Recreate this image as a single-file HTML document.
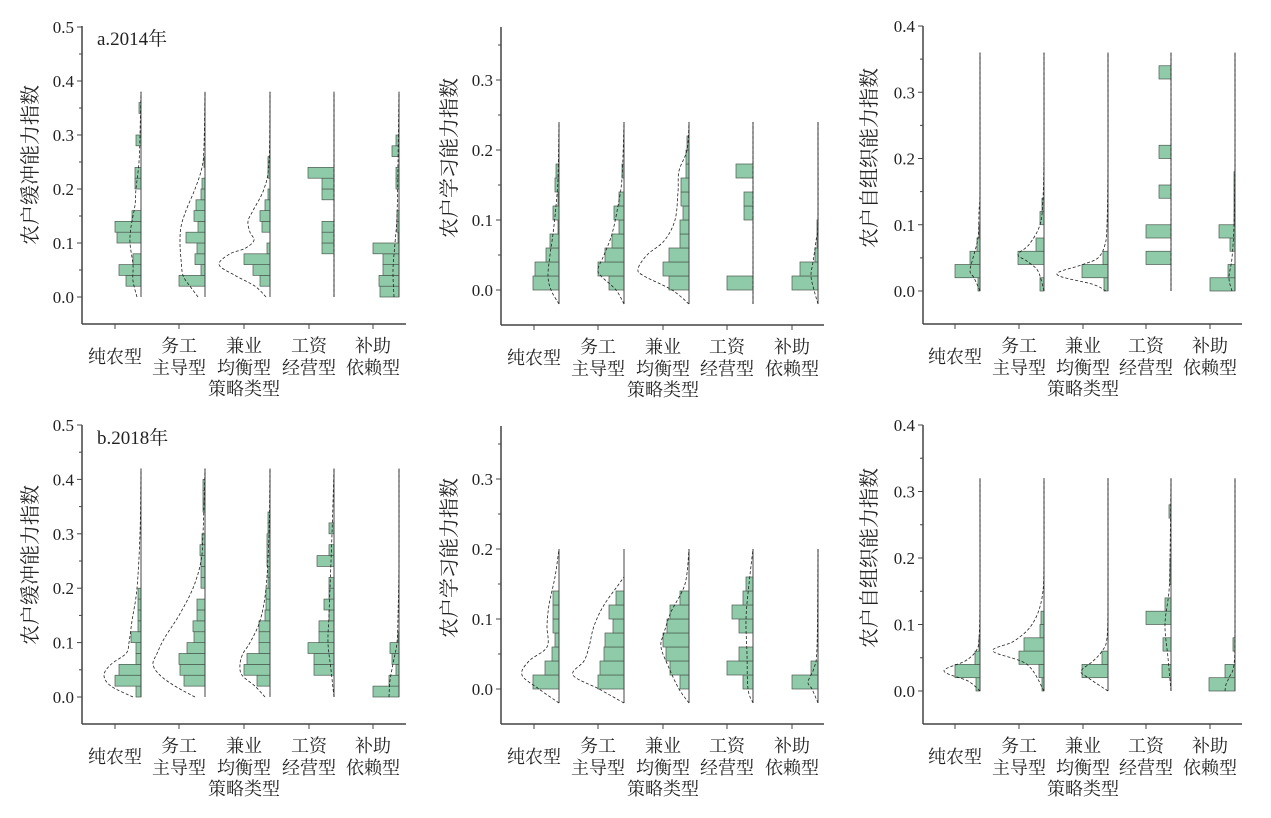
<!DOCTYPE html>
<html><head><meta charset="utf-8">
<style>
html,body{margin:0;padding:0;background:#fff;}
svg{display:block;}
text{font-family:"Liberation Serif","Noto Serif CJK SC",serif;fill:#222;}
</style></head>
<body>
<svg id="s" width="1271" height="818" xmlns="http://www.w3.org/2000/svg"></svg>
<script>
const S=document.getElementById('s');let out='';
const cats=[['纯农型'],['务工','主导型'],['兼业','均衡型'],['工资','经营型'],['补助','依赖型']];
function smooth(p){if(p.length<2)return '';let d='M'+p[0][0]+','+p[0][1];
for(let i=0;i<p.length-1;i++){const p0=p[i-1]||p[i],p1=p[i],p2=p[i+1],p3=p[i+2]||p2;
const c1=[p1[0]+(p2[0]-p0[0])/6,p1[1]+(p2[1]-p0[1])/6],c2=[p2[0]-(p3[0]-p1[0])/6,p2[1]-(p3[1]-p1[1])/6];
d+=' C'+c1[0].toFixed(1)+','+c1[1].toFixed(1)+' '+c2[0].toFixed(1)+','+c2[1].toFixed(1)+' '+p2[0].toFixed(1)+','+p2[1].toFixed(1);}return d;}
function panel(P){
 const Y=v=>P.y0-v*P.k*100;
 P.data.forEach((d,i)=>{const bx=P.base[i];
  d.b.forEach((w,j)=>{if(w<=0)return;const v0=d.s+j*0.02;const y1=Y(v0),y2=Y(v0+0.02);
   out+=`<rect x="${bx-w}" y="${y2}" width="${w}" height="${y1-y2}" fill="#8fcba8" stroke="#4a5a50" stroke-width="0.7"/>`;});
  out+=`<line x1="${bx}" y1="${Y(P.lt)}" x2="${bx}" y2="${Y(P.lb)}" stroke="#444" stroke-width="1"/>`;
  const c=d.c.length?d.c:[[P.lb,0],[P.lt,0]];
  const pts=c.map(q=>[bx+q[1],Y(q[0])]);
  out+=`<path d="${smooth(pts)}" fill="none" stroke="#222" stroke-width="0.8" stroke-dasharray="3,2"/>`;
 });
 out+=`<line x1="${P.ax}" y1="${P.top}" x2="${P.ax}" y2="${P.bot}" stroke="#444" stroke-width="1.5"/>`;
 out+=`<line x1="${P.ax}" y1="${P.bot}" x2="${P.xe}" y2="${P.bot}" stroke="#444" stroke-width="1.5"/>`;
 for(let v=0;v<=P.maxT+1e-9;v+=0.05){const y=Y(v);const maj=Math.abs(v*10-Math.round(v*10))<1e-6;
  out+=`<line x1="${P.ax-(maj?5:3)}" y1="${y}" x2="${P.ax}" y2="${y}" stroke="#444" stroke-width="1"/>`;
  if(maj&&v<=P.maxL+1e-9)out+=`<text x="${P.ax-8}" y="${y+6}" font-size="17" text-anchor="end">${v.toFixed(1)}</text>`;}
 P.ticks.forEach((x,i)=>{out+=`<line x1="${x}" y1="${P.bot}" x2="${x}" y2="${P.bot+5}" stroke="#444" stroke-width="1"/>`;
  const c=cats[i];if(c.length==1)out+=`<text x="${x}" y="${P.bot+39}" font-size="18" text-anchor="middle">${c[0]}</text>`;
  else{out+=`<text x="${x}" y="${P.bot+28}" font-size="18" text-anchor="middle">${c[0]}</text><text x="${x}" y="${P.bot+50}" font-size="18" text-anchor="middle">${c[1]}</text>`;}});
 out+=`<text x="${P.ticks[2]}" y="${P.bot+71}" font-size="18" text-anchor="middle">策略类型</text>`;
 out+=`<text transform="translate(${P.tx},${P.ty}) rotate(-90)" font-size="20" text-anchor="middle">${P.title}</text>`;
 if(P.lab)out+=`<text x="${P.ax+15}" y="${P.top+19}" font-size="19">${P.lab}</text>`;
}
const T1=[115,179,244,309,373],B1=[141,205,270,334,399];
const T2=[534,598,663,727,792],B2=[559,624,689,753,818];
const T3=[955,1019,1083,1146,1210],B3=[980,1044,1108,1171,1235];
panel({ax:82,y0:297,k:5.4,top:26,bot:324,xe:406,maxT:0.5,maxL:0.5,lt:0.38,lb:0,ticks:T1,base:B1,tx:37,ty:165,title:'农户缓冲能力指数',lab:'a.2014年',data:[
{s:0.02,b:[15,22,8,0,24,26,9,0,0,6,6,0,0,5,0,0,2],c:[[0,-4],[0.03,-8],[0.06,-8],[0.1,-11],[0.13,-10],[0.17,-6],[0.2,-5],[0.25,-2],[0.3,-1],[0.38,0]]},
{s:0.02,b:[26,4,10,8,19,7,11,9,4,3,0,1],c:[[0,-7],[0.02,-15],[0.04,-22],[0.07,-24],[0.1,-25],[0.13,-24],[0.16,-19],[0.2,-10],[0.24,-3],[0.28,-1],[0.38,0]]},
{s:0.02,b:[10,17,26,3,0,8,10,5,2,0,2,2],c:[[0,-4],[0.02,-15],[0.04,-35],[0.06,-51],[0.08,-40],[0.09,-25],[0.105,-16],[0.12,-20],[0.14,-22],[0.16,-17],[0.2,-6],[0.25,-1],[0.38,0]]},
{s:0.08,b:[12,12,12,0,0,12,12,26],c:[]},
{s:0,b:[19,20,16,16,26,1,2,2,0,0,3,3,0,7,3],c:[[0,-5],[0.05,-6],[0.1,-4],[0.15,-2],[0.25,-1],[0.38,0]]}]});
panel({ax:82,y0:697,k:5.44,top:425,bot:724,xe:406,maxT:0.5,maxL:0.5,lt:0.42,lb:0,ticks:T1,base:B1,tx:37,ty:565,title:'农户缓冲能力指数',lab:'b.2018年',data:[
{s:0,b:[5,26,22,5,5,10,3,3,3,3],c:[[0,-8],[0.02,-30],[0.04,-37],[0.06,-30],[0.08,-15],[0.1,-12],[0.14,-9],[0.2,-4],[0.3,-1],[0.42,0]]},
{s:0.02,b:[21,25,26,18,11,12,8,8,0,4,4,4,5,3,0,0,2,2,2],c:[[0,-10],[0.02,-30],[0.04,-45],[0.06,-52],[0.08,-48],[0.11,-40],[0.15,-26],[0.2,-12],[0.25,-4],[0.3,-2],[0.42,0]]},
{s:0.02,b:[13,26,23,11,11,11,5,4,4,2,2,3,3,3,2,2],c:[[0,-5],[0.02,-15],[0.04,-28],[0.06,-30],[0.08,-27],[0.1,-20],[0.14,-10],[0.2,-4],[0.3,-1],[0.42,0]]},
{s:0.04,b:[20,20,26,15,15,5,10,5,5,0,17,5,0,5],c:[[0,0],[0.05,-3],[0.1,-6],[0.15,-5],[0.2,-4],[0.3,-2],[0.42,0]]},
{s:0,b:[26,10,3,7,9,1],c:[[0,-10],[0.03,-9],[0.07,-5],[0.1,-2],[0.15,-1],[0.25,0],[0.42,0]]}]});
panel({ax:501,y0:290,k:7,top:27,bot:325,xe:824,maxT:0.35,maxL:0.3,lt:0.24,lb:-0.02,ticks:T2,base:B2,tx:456,ty:158,title:'农户学习能力指数',data:[
{s:0,b:[26,24,13,9,1,6,1,4,3],c:[[-0.02,0],[0,-8],[0.02,-11],[0.05,-9],[0.08,-6],[0.12,-3],[0.16,-1],[0.24,0]]},
{s:0,b:[15,26,19,12,5,10,5,0,2],c:[[-0.02,0],[0,-8],[0.02,-23],[0.03,-26],[0.05,-20],[0.08,-12],[0.12,-6],[0.16,-2],[0.24,0]]},
{s:0,b:[20,26,20,9,9,6,8,8,3,3,2],c:[[-0.02,0],[0,-17],[0.02,-45],[0.03,-51],[0.05,-42],[0.07,-25],[0.1,-14],[0.14,-11],[0.17,-10],[0.2,-2],[0.24,0]]},
{s:0,b:[26,0,0,0,0,9,9,0,17],c:[]},
{s:0,b:[26,18,3,1,1],c:[[-0.02,0],[0,-4],[0.02,-7],[0.04,-5],[0.07,-2],[0.1,0],[0.24,0]]}]});
panel({ax:501,y0:689,k:7,top:426,bot:724,xe:824,maxT:0.35,maxL:0.3,lt:0.2,lb:-0.02,ticks:T2,base:B2,tx:456,ty:558,title:'农户学习能力指数',data:[
{s:0,b:[26,14,7,4,6,6,6],c:[[-0.02,0],[0,-20],[0.02,-37],[0.04,-30],[0.06,-12],[0.09,-12],[0.12,-10],[0.16,-4],[0.2,0]]},
{s:0,b:[26,24,20,19,11,15,8],c:[[-0.02,0],[0,-25],[0.02,-51],[0.04,-40],[0.06,-35],[0.09,-30],[0.12,-20],[0.15,-5],[0.16,0]]},
{s:0,b:[9,19,23,26,22,19,9],c:[[-0.02,0],[0,-10],[0.03,-20],[0.06,-28],[0.08,-25],[0.11,-18],[0.15,-4],[0.2,0]]},
{s:0,b:[10,26,14,0,14,21,10,7],c:[[-0.02,0],[0,-5],[0.05,-6],[0.1,-7],[0.15,-4],[0.2,0]]},
{s:0,b:[26,7],c:[[-0.02,0],[0,-6],[0.01,-10],[0.03,-4],[0.06,-1],[0.2,0]]}]});
panel({ax:923,y0:291,k:6.625,top:26,bot:324,xe:1242,maxT:0.4,maxL:0.4,lt:0.36,lb:0,ticks:T3,base:B3,tx:876,ty:158,title:'农户自组织能力指数',data:[
{s:0,b:[2,25,10,3,1],c:[[0,0],[0.02,-6],[0.03,-10],[0.05,-7],[0.08,-2],[0.12,-1],[0.16,0],[0.36,0]]},
{s:0,b:[4,0,26,8,0,4,2],c:[[0,0],[0.03,-6],[0.045,-17],[0.055,-26],[0.07,-15],[0.1,-4],[0.14,-1],[0.22,0],[0.36,0]]},
{s:0,b:[4,26,5],c:[[0,-2],[0.01,-15],[0.025,-51],[0.04,-25],[0.05,-10],[0.07,-3],[0.1,-1],[0.2,0],[0.36,0]]},
{s:0.04,b:[25,0,25,0,0,12,0,0,12,0,0,0,0,0,12],c:[]},
{s:0,b:[25,7,0,5,16,1,1,1,1],c:[[0,-3],[0.02,-6],[0.05,-3],[0.1,-1],[0.2,0],[0.36,0]]}]});
panel({ax:923,y0:691,k:6.65,top:425,bot:724,xe:1242,maxT:0.4,maxL:0.4,lt:0.32,lb:0,ticks:T3,base:B3,tx:876,ty:558,title:'农户自组织能力指数',data:[
{s:0,b:[4,25,5,1],c:[[0,0],[0.015,-12],[0.03,-36],[0.045,-15],[0.06,-4],[0.08,-1],[0.15,0],[0.32,0]]},
{s:0,b:[2,5,25,20,4,3],c:[[0,0],[0.04,-17],[0.06,-51],[0.075,-30],[0.1,-12],[0.14,-2],[0.2,0],[0.32,0]]},
{s:0,b:[0,26,6],c:[[0,0],[0.02,-20],[0.03,-27],[0.045,-15],[0.06,-6],[0.08,-1],[0.15,0],[0.32,0]]},
{s:0.02,b:[9,0,8,0,25,6,0,1,1,0,0,0,2],c:[[0,0],[0.05,-3],[0.1,-6],[0.15,-2],[0.2,-1],[0.32,0]]},
{s:0,b:[26,10,0,2],c:[[0,-10],[0.01,-9],[0.02,-6],[0.04,-1],[0.1,0],[0.32,0]]}]});
S.innerHTML=out;
</script>
</body></html>
